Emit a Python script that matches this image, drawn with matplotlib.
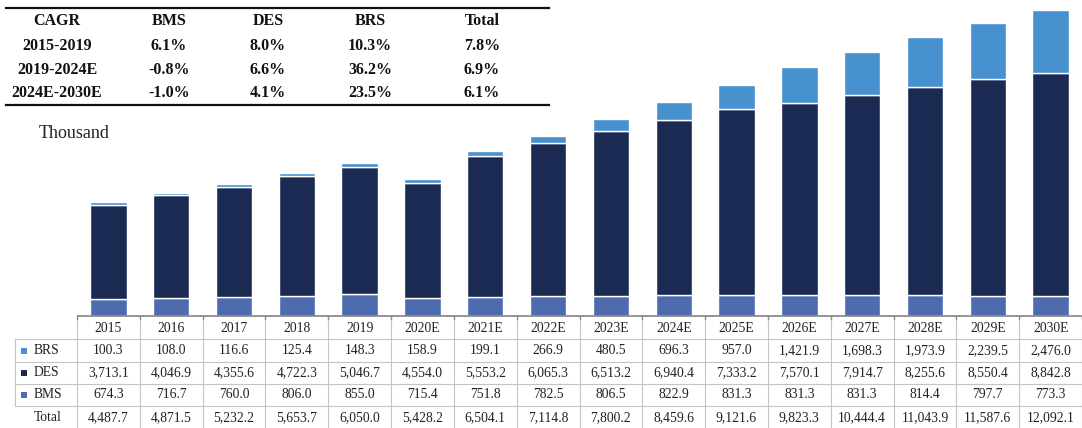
import matplotlib
matplotlib.use("Agg")
import matplotlib.pyplot as plt
from matplotlib.patches import Rectangle

plt.rcParams['font.family'] = ['Liberation Serif', 'DejaVu Serif']

years = ["2015", "2016", "2017", "2018", "2019", "2020E", "2021E", "2022E",
         "2023E", "2024E", "2025E", "2026E", "2027E", "2028E", "2029E", "2030E"]
brs = [100.3, 108.0, 116.6, 125.4, 148.3, 158.9, 199.1, 266.9,
       480.5, 696.3, 957.0, 1421.9, 1698.3, 1973.9, 2239.5, 2476.0]
des = [3713.1, 4046.9, 4355.6, 4722.3, 5046.7, 4554.0, 5553.2, 6065.3,
       6513.2, 6940.4, 7333.2, 7570.1, 7914.7, 8255.6, 8550.4, 8842.8]
bms = [674.3, 716.7, 760.0, 806.0, 855.0, 715.4, 751.8, 782.5,
       806.5, 822.9, 831.3, 831.3, 831.3, 814.4, 797.7, 773.3]
totals = [4487.7, 4871.5, 5232.2, 5653.7, 6050.0, 5428.2, 6504.1, 7114.8,
          7800.2, 8459.6, 9121.6, 9823.3, 10444.4, 11043.9, 11587.6, 12092.1]

cagr_header = ["CAGR", "BMS", "DES", "BRS", "Total"]
cagr_periods = ["2015-2019", "2019-2024E", "2024E-2030E"]
cagr_bms = ["6.1%", "-0.8%", "-1.0%"]
cagr_des = ["8.0%", "6.6%", "4.1%"]
cagr_brs = ["10.3%", "36.2%", "23.5%"]
cagr_total = ["7.8%", "6.9%", "6.1%"]

c_brs = "#4791CF"
c_des = "#1B2A52"
c_bms = "#4D6BAE"
grid_c = "#C4C4C4"
axis_c = "#8C8C8C"
txt_c = "#222222"

W, H = 1082, 428
fig = plt.figure(figsize=(W / 100, H / 100), dpi=100)

# bar axes
x0, ytop, ybot = 77, 0, 316
ax = fig.add_axes([x0 / W, 1 - ybot / H, (W - x0) / W, (ybot - ytop) / H])
xs = list(range(len(years)))
bw = 0.58
ax.bar(xs, bms, bw, color=c_bms, edgecolor="white", linewidth=1.0)
ax.bar(xs, des, bw, bottom=bms, color=c_des, edgecolor="white", linewidth=1.0)
bot2 = [a + b for a, b in zip(bms, des)]
ax.bar(xs, brs, bw, bottom=bot2, color=c_brs, edgecolor="white", linewidth=1.0)
ax.set_xlim(-0.5, len(years) - 0.5)
ax.set_ylim(0, 12490)
ax.axis("off")

# overlay in pixel coordinates
ov = fig.add_axes([0, 0, 1, 1], zorder=5)
ov.set_xlim(0, W)
ov.set_ylim(H, 0)
ov.axis("off")
ov.patch.set_alpha(0)

# data table
colw = (W - x0) / len(years)
rows_y = [316, 339, 362, 384, 406, 429]
lw = 0.8
for yy in rows_y[1:]:
    ov.plot([15, W], [yy, yy], color=grid_c, lw=lw)
for i in range(len(years) + 1):
    ov.plot([x0 + i * colw] * 2, [rows_y[0], rows_y[-1]], color=grid_c, lw=lw)
ov.plot([15, 15], [rows_y[1], rows_y[4]], color=grid_c, lw=lw)
# category axis line with ticks
ov.plot([x0, W], [rows_y[0], rows_y[0]], color=axis_c, lw=1.3,
        solid_capstyle="butt")
for i in range(len(years) + 1):
    ov.plot([x0 + i * colw] * 2, [rows_y[0], rows_y[0] + 3], color=axis_c, lw=1.0)

fs = 9.8
def row_center(r):
    return (rows_y[r] + rows_y[r + 1]) / 2

for i, y in enumerate(years):
    ov.text(x0 + (i + 0.5) * colw, row_center(0) + 0.5, y, ha="center", va="center",
            fontsize=fs, color=txt_c)
series_rows = [("BRS", brs, c_brs), ("DES", des, c_des), ("BMS", bms, c_bms),
               ("Total", totals, None)]
for r, (name, vals, col) in enumerate(series_rows, start=1):
    yc = row_center(r)
    if col is not None:
        ov.add_patch(Rectangle((21, yc - 3), 6, 6, color=col, lw=0))
    ov.text(34, yc, name, ha="left", va="center", fontsize=fs, color=txt_c)
    for i, v in enumerate(vals):
        ov.text(x0 + (i + 0.5) * colw, yc, f"{v:,.1f}", ha="center",
                va="center", fontsize=fs, color=txt_c)

# CAGR table
ccols = [57, 169, 268, 370, 482]
ov.plot([6, 549], [8, 8], color="#111111", lw=1.6)
ov.plot([6, 549], [105, 105], color="#111111", lw=1.6)
crow_y = [21, 46, 70, 93]
cfs = 11.5
for c, t in zip(ccols, cagr_header):
    ov.text(c, crow_y[0], t, ha="center", va="center", fontsize=cfs,
            fontweight="bold", color="#111111")
for r in range(3):
    vals = [cagr_periods[r], cagr_bms[r], cagr_des[r], cagr_brs[r], cagr_total[r]]
    for c, t in zip(ccols, vals):
        ov.text(c, crow_y[r + 1], t, ha="center", va="center", fontsize=cfs,
                fontweight="bold", color="#111111")

ov.text(39, 133, "Thousand", ha="left", va="center", fontsize=13, color=txt_c)

fig.savefig("out.png", dpi=100)
